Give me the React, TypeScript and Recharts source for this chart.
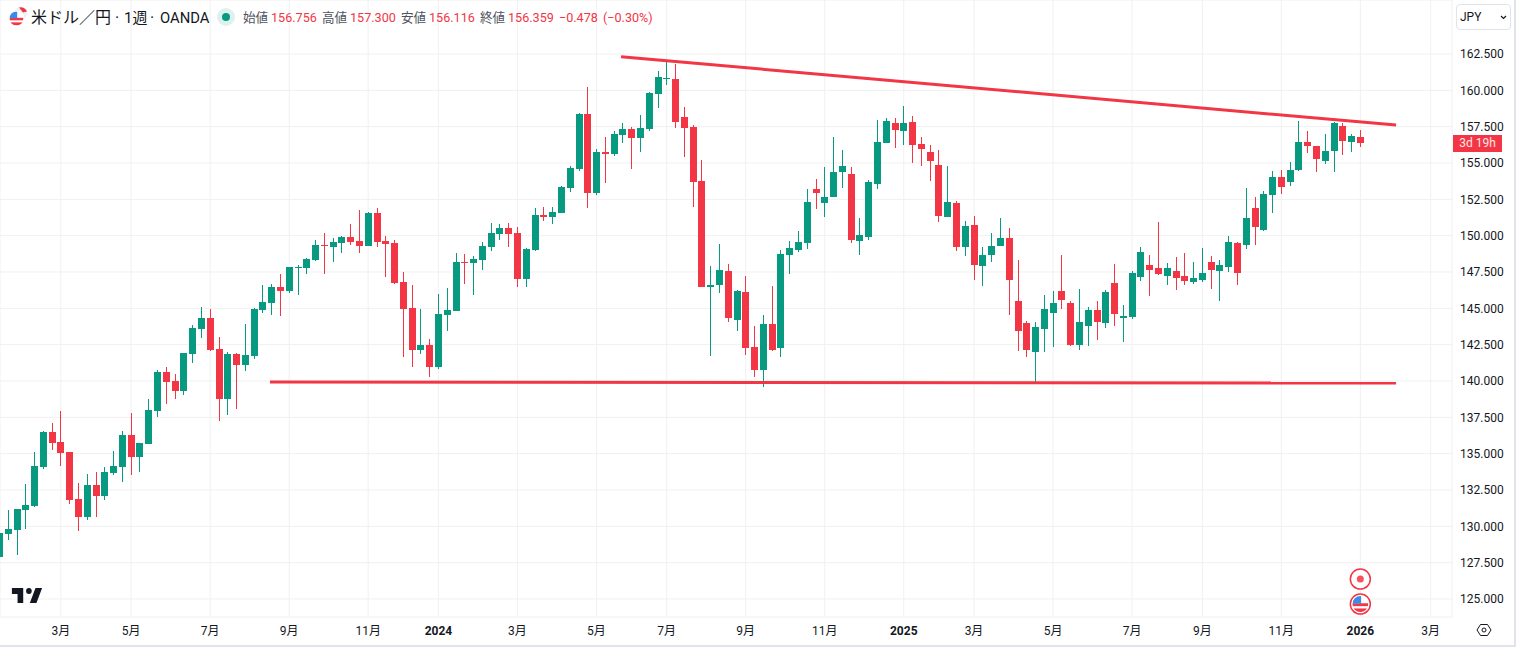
import { Bar, CartesianGrid, ComposedChart, ReferenceDot, ReferenceLine, XAxis, YAxis } from "recharts";

const opens = [
  127.9, 129.47, 129.75, 131.12, 131.4, 134.08, 136.49, 135.8, 135.11, 131.88,
  130.64, 132.84, 132.09, 133.67, 134.08, 136.28, 134.77, 135.66, 137.94, 140.62,
  140.0, 139.31, 141.86, 143.58, 144.33, 142.2, 138.76, 141.86, 141.1, 141.72,
  144.88, 145.37, 146.47, 146.19, 147.78, 147.77, 148.33, 149.36, 149.22, 149.5,
  149.91, 149.63, 149.29, 151.56, 149.63, 149.5, 146.81, 145.02, 142.13, 142.48,
  140.96, 144.54, 144.82, 148.19, 148.12, 148.33, 149.22, 150.12, 150.53, 150.18,
  147.02, 149.01, 151.42, 151.28, 151.56, 153.28, 154.59, 158.37, 152.93, 155.76,
  155.62, 156.93, 157.34, 156.72, 157.34, 159.75, 160.78, 160.78, 158.16, 157.48,
  153.76, 146.47, 146.6, 147.57, 144.2, 146.12, 142.34, 140.76, 143.92, 142.27,
  148.67, 149.01, 149.49, 153.21, 152.25, 152.66, 154.38, 154.24, 149.63, 149.91,
  153.55, 156.38, 157.75, 157.2, 157.82, 156.31, 155.76, 154.86, 151.28, 152.25,
  149.22, 150.73, 147.91, 148.67, 149.29, 149.84, 145.5, 143.99, 141.99, 143.58,
  144.68, 146.19, 145.37, 142.48, 143.78, 144.88, 143.99, 146.74, 144.33, 144.4,
  147.16, 147.98, 147.77, 147.22, 147.57, 147.22, 146.81, 146.95, 148.19, 147.57,
  147.84, 149.49, 149.36, 151.9, 150.39, 152.8, 154.04, 153.69, 154.52, 156.44,
  156.17, 155.14, 155.83, 157.55, 156.44, 156.756,
];
const closes = [
  129.52, 129.81, 131.19, 131.47, 134.15, 136.49, 135.73, 135.04, 131.81, 130.64,
  132.84, 132.09, 133.74, 134.15, 136.28, 134.77, 135.73, 138.0, 140.62, 139.93,
  139.31, 141.93, 143.65, 144.33, 142.13, 138.76, 141.86, 141.1, 141.79, 144.95,
  145.44, 146.47, 146.19, 147.84, 147.84, 148.39, 149.36, 149.29, 149.56, 149.91,
  149.56, 149.29, 151.56, 149.56, 149.43, 146.74, 144.95, 142.13, 142.48, 140.96,
  144.61, 144.88, 148.19, 148.12, 148.39, 149.29, 150.18, 150.53, 150.12, 147.02,
  149.08, 151.42, 151.28, 151.63, 153.35, 154.66, 158.37, 152.93, 155.76, 155.62,
  156.99, 157.34, 156.72, 157.41, 159.82, 160.92, 160.85, 157.82, 157.41, 153.69,
  146.47, 146.6, 147.64, 144.33, 146.19, 142.27, 140.76, 143.92, 142.13, 148.74,
  149.15, 149.56, 152.31, 152.93, 152.66, 154.38, 154.79, 149.7, 150.05, 153.69,
  156.44, 157.89, 157.27, 157.75, 156.24, 155.96, 155.14, 151.35, 152.32, 149.22,
  150.66, 147.98, 148.67, 149.29, 149.84, 146.95, 143.44, 142.13, 143.71, 144.95,
  145.37, 145.57, 142.48, 144.06, 144.88, 144.06, 146.12, 144.61, 144.47, 147.43,
  148.87, 147.64, 147.36, 147.77, 147.09, 146.88, 147.09, 147.43, 147.64, 147.98,
  149.56, 147.43, 151.21, 150.6, 152.87, 154.04, 153.35, 154.52, 156.44, 156.17,
  155.28, 155.83, 157.75, 156.51, 156.86, 156.359,
];
const highs = [
  129.7, 131.12, 131.19, 132.91, 135.11, 136.56, 137.11, 137.94, 135.11, 132.98,
  133.6, 133.74, 134.08, 135.18, 136.56, 137.8, 135.73, 138.76, 140.76, 140.96,
  140.48, 141.93, 143.85, 145.09, 144.95, 143.03, 141.99, 141.93, 143.92, 145.02,
  146.6, 146.67, 147.36, 147.84, 147.98, 148.46, 149.7, 150.18, 149.84, 149.98,
  150.8, 151.77, 151.63, 151.9, 149.98, 149.7, 147.5, 146.6, 144.95, 142.89,
  145.99, 146.4, 148.81, 148.74, 148.6, 149.56, 150.87, 150.8, 150.87, 150.6,
  149.15, 151.9, 151.97, 151.97, 153.42, 154.8, 158.44, 160.23, 155.96, 156.79,
  157.2, 157.75, 157.48, 158.3, 159.89, 161.33, 162.02, 161.81, 158.85, 157.61,
  155.21, 147.91, 149.43, 148.05, 146.26, 147.22, 143.78, 144.54, 146.53, 149.01,
  149.63, 150.32, 153.21, 153.9, 154.72, 156.79, 155.89, 154.72, 151.21, 153.83,
  157.96, 158.1, 158.1, 158.92, 158.23, 156.79, 156.24, 155.89, 154.79, 152.39,
  151.01, 151.35, 149.22, 150.18, 151.21, 150.53, 148.33, 144.13, 144.06, 145.92,
  146.19, 148.67, 145.5, 146.33, 145.09, 145.5, 146.26, 148.05, 145.23, 147.57,
  149.22, 148.67, 150.94, 148.12, 148.53, 148.8, 148.19, 149.15, 148.6, 148.33,
  149.98, 149.56, 153.28, 152.66, 153.07, 154.45, 154.52, 155.07, 157.89, 157.2,
  156.17, 156.99, 157.82, 157.75, 156.99, 157.3,
];
const lows = [
  127.8, 129.06, 128.0, 129.81, 131.33, 133.94, 135.25, 134.15, 131.53, 129.68,
  130.43, 130.64, 131.81, 133.53, 133.05, 133.53, 133.74, 135.66, 137.52, 138.42,
  138.76, 139.04, 141.24, 142.96, 142.06, 137.25, 137.66, 138.07, 140.69, 141.51,
  144.68, 144.54, 144.47, 146.05, 145.92, 147.36, 148.26, 147.36, 148.19, 148.81,
  149.36, 148.81, 149.29, 149.22, 147.16, 146.67, 141.65, 140.96, 141.86, 140.27,
  140.83, 143.44, 144.82, 146.67, 145.92, 147.64, 148.94, 149.7, 149.22, 146.47,
  146.47, 148.94, 151.01, 150.8, 151.56, 153.0, 154.45, 151.9, 152.8, 153.62,
  155.48, 156.38, 154.59, 155.76, 157.2, 158.78, 160.37, 157.41, 155.41, 151.97,
  146.47, 141.72, 146.05, 144.06, 143.44, 141.79, 140.27, 139.59, 142.06, 141.65,
  147.36, 148.88, 149.08, 151.83, 151.28, 152.66, 153.28, 149.5, 148.67, 149.7,
  153.21, 156.38, 156.03, 156.24, 155.0, 154.79, 153.76, 150.94, 151.28, 148.94,
  148.6, 146.95, 146.54, 148.19, 149.29, 144.54, 142.06, 141.65, 139.93, 141.99,
  142.34, 144.95, 142.41, 142.13, 142.41, 142.82, 143.65, 143.78, 142.68, 144.26,
  146.88, 145.85, 147.29, 146.61, 146.26, 146.61, 146.67, 146.81, 146.33, 145.5,
  147.5, 146.61, 149.08, 149.36, 150.32, 151.56, 152.87, 153.42, 154.45, 155.69,
  154.38, 154.93, 154.38, 155.55, 155.76, 156.116,
];

const priceTicks = [125, 127.5, 130, 132.5, 135, 137.5, 140, 142.5, 145, 147.5, 150, 152.5, 155, 157.5, 160, 162.5];
const timeTicks = [7, 15, 24, 33, 42, 50, 59, 68, 76, 85, 94, 103, 111, 120, 129, 137, 146, 155, 163];
const timeLabels = ["3月", "5月", "7月", "9月", "11月", "2024", "3月", "5月", "7月", "9月", "11月", "2025", "3月", "5月", "7月", "9月", "11月", "2026", "3月"];

const upperTrend = [{ x: 70.8, y: 162.31 }, { x: 159.07, y: 157.61 }];
const lowerTrend = [{ x: 30.82, y: 139.93 }, { x: 159.07, y: 139.86 }];

const candles = opens.map((open, i) => ({ i, open, close: closes[i], high: highs[i], low: lows[i] }));

const UP = "#089981";
const DOWN = "#F23645";
const TEXT = "#131722";
const FONT = 'Roboto, "Noto Sans CJK JP", sans-serif';

const Candle = (props: any) => {
  const { x, width, y, height, payload } = props;
  if (payload.high === payload.low) return null;
  const perUnit = height / (payload.high - payload.low);
  const top = y + (payload.high - Math.max(payload.open, payload.close)) * perUnit;
  const bottom = y + (payload.high - Math.min(payload.open, payload.close)) * perUnit;
  const color = payload.close >= payload.open ? UP : DOWN;
  const left = Math.round(x + width / 2 - 3.5);
  return (
    <g shapeRendering="crispEdges">
      <rect x={left + 3} y={y} width={1} height={Math.max(height, 1)} fill={color} />
      <rect x={left} y={Math.round(top)} width={7} height={Math.max(Math.round(bottom) - Math.round(top), 1)} fill={color} />
    </g>
  );
};

const TimeTick = (props: any) => {
  const label = timeLabels[timeTicks.indexOf(props.payload.value)];
  return (
    <text x={props.x} y={635} textAnchor="middle" fontSize={12} fontFamily={FONT} fontWeight={/^\d{4}$/.test(label) ? 700 : 400} fill={TEXT}>
      {label}
    </text>
  );
};

const FlagArt = ({ cx, cy, r, id }: { cx: number; cy: number; r: number; id: string }) => (
  <g>
    <clipPath id={id}>
      <circle cx={cx} cy={cy} r={r} />
    </clipPath>
    <g clipPath={`url(#${id})`}>
      <rect x={cx - r} y={cy - r} width={r * 2} height={r * 2} fill="#fff" />
      <rect x={cx - r} y={cy - r * 0.1} width={r * 2} height={r * 0.36} fill="#F23645" />
      <rect x={cx - r} y={cy + r * 0.55} width={r * 2} height={r * 0.45} fill="#F23645" />
      <rect x={cx - r} y={cy - r} width={r * 1.1} height={r * 0.95} fill="#3D8BE8" />
    </g>
  </g>
);

const CalendarDot = (props: any) => (
  <g>
    <circle cx={props.cx} cy={props.cy} r={10} fill="#fff" stroke={DOWN} strokeWidth={1.5} />
    <circle cx={props.cx} cy={props.cy} r={3.5} fill="#F7525F" />
  </g>
);

const FlagDot = (props: any) => (
  <g>
    <circle cx={props.cx} cy={props.cy} r={10} fill="#fff" stroke={DOWN} strokeWidth={1.5} />
    <FlagArt cx={props.cx} cy={props.cy} r={8} id="eventFlag" />
  </g>
);

const titleParts = [
  { left: 31, text: "米ドル／円", size: 16 },
  { left: 115, text: "·", size: 16 },
  { left: 124, text: "1週", size: 15 },
  { left: 150, text: "·", size: 16 },
  { left: 160, text: "OANDA", size: 14.8 },
];

const legendItems = [
  { left: 243, text: "始値", color: "#50535E" },
  { left: 271, text: "156.756", color: DOWN },
  { left: 322, text: "高値", color: "#50535E" },
  { left: 350, text: "157.300", color: DOWN },
  { left: 401, text: "安値", color: "#50535E" },
  { left: 429, text: "156.116", color: DOWN },
  { left: 480, text: "終値", color: "#50535E" },
  { left: 508, text: "156.359", color: DOWN },
  { left: 559, text: "−0.478", color: DOWN },
  { left: 603, text: "(−0.30%)", color: DOWN },
];

export default function App() {
  return (
    <div style={{ position: "absolute", left: 0, top: 0, width: 1516, height: 647, background: "#fff", overflow: "hidden", fontFamily: FONT }}>
      <ComposedChart width={1516} height={647} data={candles} margin={{ top: 0, right: 0, bottom: 0, left: 0 }}>
        <CartesianGrid stroke="#f0f0f0" strokeWidth={1} />
        <XAxis
          dataKey="i"
          type="number"
          domain={[0.068, 165.44]}
          allowDataOverflow
          ticks={timeTicks}
          interval={0}
          height={30}
          axisLine={false}
          tickLine={false}
          tick={TimeTick}
        />
        <YAxis
          orientation="right"
          width={64}
          domain={[123.76, 166.216]}
          allowDataOverflow
          ticks={priceTicks}
          interval={0}
          axisLine={false}
          tickLine={false}
          tickFormatter={(v: number) => v.toFixed(3)}
          tick={{ fontSize: 12, fill: TEXT, fontFamily: FONT }}
        />
        <Bar dataKey={(d: any) => [d.low, d.high]} barSize={7} shape={Candle} isAnimationActive={false} />
        <ReferenceLine segment={upperTrend} stroke={DOWN} strokeWidth={3} />
        <ReferenceLine segment={lowerTrend} stroke={DOWN} strokeWidth={3} />
        <ReferenceDot x={155} y={126.37} shape={CalendarDot} />
        <ReferenceDot x={155} y={124.65} shape={FlagDot} />
      </ComposedChart>

      {/* legend row */}
      <svg style={{ position: "absolute", left: 0, top: 0 }} width={240} height={34}>
        <circle cx={21} cy={13} r={6.5} fill="#F0F1F5" />
        <path d="M19 7.5a6.5 6.5 0 0 1 8 4l-4 1z" fill="#F23645" />
        <circle cx={16.5} cy={18.5} r={8} fill="#fff" />
        <FlagArt cx={16.5} cy={18.5} r={7} id="titleFlag" />
        <circle cx={226} cy={17} r={9} fill="#DDF2EE" />
        <circle cx={226} cy={17} r={4} fill={UP} />
      </svg>
      {titleParts.map((part) => (
        <div key={part.left} style={{ position: "absolute", left: part.left, top: 9, fontSize: part.size, lineHeight: "18px", color: TEXT, whiteSpace: "pre" }}>
          {part.text}
        </div>
      ))}
      {legendItems.map((item) => (
        <div key={item.left} style={{ position: "absolute", left: item.left, top: 10, fontSize: 12.6, lineHeight: "16px", color: item.color, whiteSpace: "pre" }}>
          {item.text}
        </div>
      ))}

      {/* currency button */}
      <div style={{ position: "absolute", left: 1456, top: 4, width: 53, height: 24, border: "1px solid #E0E3EB", borderRadius: 4, background: "#fff", fontSize: 12, lineHeight: "24px", color: TEXT }}>
        <span style={{ position: "absolute", left: 3 }}>JPY</span>
        <svg style={{ position: "absolute", left: 43, top: 10 }} width={7} height={5}>
          <path d="M1 1l2.5 2.5L6 1" fill="none" stroke={TEXT} strokeWidth={1.2} />
        </svg>
      </div>

      {/* countdown tag */}
      <div style={{ position: "absolute", left: 1453, top: 135, width: 49, height: 17, background: DOWN, color: "#FFE4E6", fontSize: 12, lineHeight: "17px", textAlign: "center" }}>3d 19h</div>

      {/* tradingview mark */}
      <svg style={{ position: "absolute", left: 10, top: 582 }} width={34} height={28} viewBox="0 0 36 28" preserveAspectRatio="none">
        <path d="M14 6H2v6h6v9h6V6zm14 15h-7l6-15h7l-6 15zm-8-9a3 3 0 1 0 0-6 3 3 0 0 0 0 6z" fill="#131722" />
      </svg>

      {/* settings button */}
      <svg style={{ position: "absolute", left: 1476, top: 622 }} width={16} height={16}>
        <path d="M4.5 2.5h7L15 8l-3.5 5.5h-7L1 8z" fill="none" stroke={TEXT} strokeWidth={1} />
        <circle cx={8} cy={8} r={2} fill="none" stroke={TEXT} strokeWidth={1} />
      </svg>

      <div style={{ position: "absolute", left: 0, top: 645, width: 1516, height: 2, background: "#E0E3EB" }} />
      <div style={{ position: "absolute", left: 1514, top: 0, width: 2, height: 647, background: "#E0E3EB" }} />
    </div>
  );
}
